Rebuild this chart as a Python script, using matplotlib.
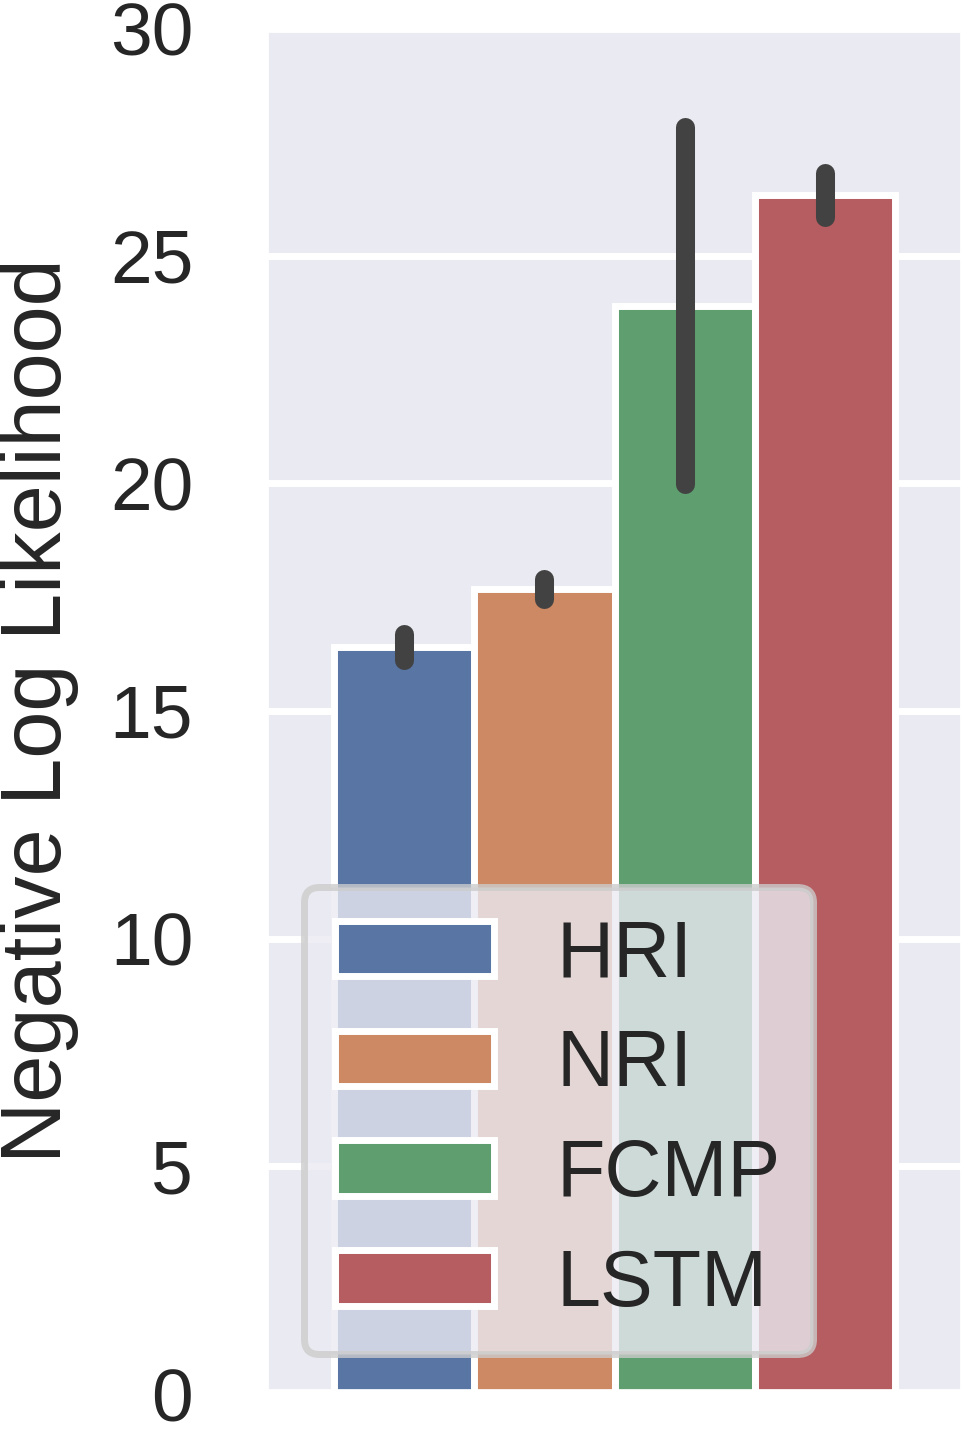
import numpy as np
import matplotlib as mpl
mpl.use('agg')
import matplotlib.pyplot as plt


##--##--  data  --##--##
models = ["HRI", "NRI", "FCMP", "LSTM"]
nll_mean = [16.40, 17.67, 23.90, 26.33]
ci_low = [16.11, 17.47, 19.98, 25.84]
ci_high = [16.70, 17.89, 27.82, 26.82]
yticks = [0, 5, 10, 15, 20, 25, 30]

# seaborn "deep" desaturated to 0.75
colors = ["#5975A4", "#CC8963", "#5F9E6E", "#B55D60"]
txt = "#262626"
bg = "#EAEAF2"

plt.rcParams['font.family'] = ['Liberation Sans', 'DejaVu Sans']


##--##--  figure  --##--##
fig = plt.figure(figsize=(9.65, 14.38), dpi=100)
ax = fig.add_axes([264/965, 44/1438, 701/965, 1366/1438])
ax.set_facecolor(bg)
ax.set_axisbelow(True)
ax.grid(axis='y', color='white', linewidth=5.0)
for s in ax.spines.values():
    s.set_color('white')
    s.set_linewidth(7.0)

n = len(models)
width = 0.8 / n
xpos = -0.4 + width / 2 + width * np.arange(n)

for i in range(n):
    ax.bar(xpos[i], nll_mean[i], width=width, color=colors[i],
           edgecolor='white', linewidth=5.0, label=models[i], zorder=2)
    ax.plot([xpos[i], xpos[i]], [ci_low[i], ci_high[i]], color='#424242',
            linewidth=13.7, solid_capstyle='round', zorder=3)

ax.set_xlim(-0.5, 0.5)
ax.set_ylim(0, 30)
ax.set_xticks([])
ax.set_yticks(yticks)
ax.tick_params(axis='y', length=0, pad=51, labelsize=54, labelcolor=txt)
ax.set_ylabel('Negative Log Likelihood', fontsize=61, color=txt, labelpad=22)

leg = ax.legend(loc='lower left', fontsize=57, framealpha=0.8, facecolor=bg,
                edgecolor='0.8', labelspacing=0.44)
leg.get_frame().set_linewidth(5.0)
for t in leg.get_texts():
    t.set_color(txt)

fig.savefig('out.png', dpi=100)
